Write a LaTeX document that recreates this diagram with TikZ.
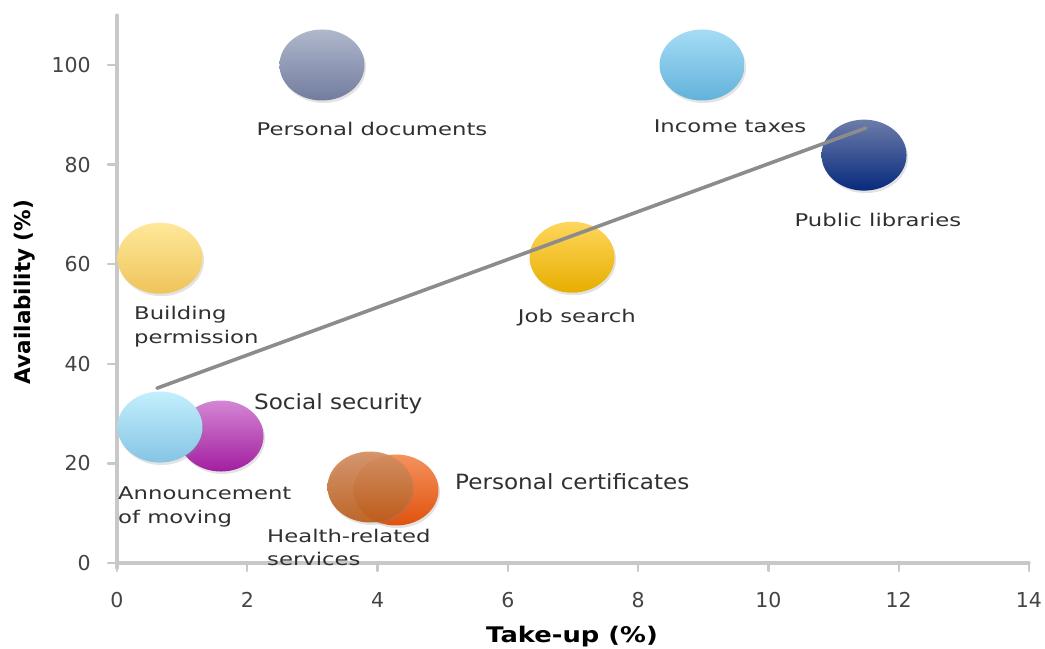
\documentclass[tikz,border=0pt]{standalone}
\usepackage{fontspec}
\setmainfont{DejaVu Sans}
\newfontfamily\lblfont[FakeStretch=1.3]{DejaVu Sans}
\newfontfamily\biglblfont[FakeStretch=1.1]{DejaVu Sans}
\newfontfamily\ttlfont[FakeStretch=1.2]{DejaVu Sans}
\usetikzlibrary{shapes.geometric,shadows}

\definecolor{axisgray}{HTML}{C8C8C8}
\definecolor{trendgray}{HTML}{8C8C8C}
\definecolor{textgray}{HTML}{303030}
\definecolor{tickgray}{HTML}{444444}
\definecolor{pdocT}{HTML}{B0B8CC}   \definecolor{pdocB}{HTML}{727C9E}
\definecolor{incomeT}{HTML}{A5DCF5} \definecolor{incomeB}{HTML}{62B2DA}
\definecolor{publibT}{HTML}{6C7CAA} \definecolor{publibB}{HTML}{072A7C}
\definecolor{jobT}{HTML}{FED65C}    \definecolor{jobB}{HTML}{E7AE00}
\definecolor{buildT}{HTML}{FEE89A}  \definecolor{buildB}{HTML}{EFC45A}
\definecolor{socialT}{HTML}{D486D4} \definecolor{socialB}{HTML}{A21EA0}
\definecolor{moveT}{HTML}{C2EFFD}   \definecolor{moveB}{HTML}{86C4E4}
\definecolor{certT}{HTML}{F5925C}   \definecolor{certB}{HTML}{E0520E}
\definecolor{healthT}{HTML}{D38F64} \definecolor{healthB}{HTML}{BB5C1A}

\tikzset{
  bubble/.style={ellipse, minimum width=85pt, minimum height=71pt,
    inner sep=0pt, top color=#1T, bottom color=#1B,
    drop shadow={opacity=0.22, shadow xshift=1.5pt, shadow yshift=-2.5pt}},
  lbl/.style={text=textgray, inner sep=0pt, align=left,
    font=\lblfont\fontsize{17.5}{23.5}\selectfont},
  biglbl/.style={text=textgray, inner sep=0pt,
    font=\biglblfont\fontsize{21}{25}\selectfont},
  ticklbl/.style={text=tickgray, inner sep=0pt, font=\fontsize{20.5}{24}\selectfont},
  axisline/.style={draw=axisgray, line width=3.5pt},
  axistick/.style={draw=axisgray, line width=2.2pt}
}

\begin{document}
\begin{tikzpicture}[x=65.14pt,y=4.98pt,line cap=round,line join=round]
    \useasboundingbox (-1.796,-17.07) rectangle (14.246,113.05);

    % axes and ticks
    \draw[axisline] (0,-1) -- (0,110);
    \draw[axisline] (0,0) -- (14,0);
    \foreach \v in {0,20,...,100} {
        \draw[axistick] (-0.14,\v) -- (0,\v);
        \node[ticklbl,anchor=east] (yt\v) at (-0.4,\v) {\v};
    }
    \foreach \u in {0,2,...,14} {
        \draw[axistick] (\u,0) -- (\u,-1.6);
        \node[ticklbl] (xt\u) at (\u,-7.4) {\u};
    }
    \node[ticklbl,text=black,rotate=90,font=\fontsize{21.5}{24}\selectfont\bfseries]
        (ytitle) at (-1.412,54.4) {Availability (\%)};
    \node[ticklbl,text=black,font=\ttlfont\fontsize{21.5}{24}\selectfont\bfseries]
        (xtitle) at (6.985,-14.86) {Take-up (\%)};

    % bubbles
    \node[bubble=pdoc] (pdoc) at (3.147,100) {};
    \node[bubble=income] (income) at (8.981,100) {};
    \node[bubble=publib] (publib) at (11.468,81.9) {};
    \node[bubble=job] (job) at (6.985,61.4) {};
    \node[bubble=build] (build) at (0.66,61.2) {};
    \node[bubble=social] (social) at (1.597,25.5) {};
    \node[bubble=move] (move) at (0.66,27.3) {};
    \node[bubble=cert] (cert) at (4.283,14.66) {};
    \node[bubble=health,fill opacity=0.92] (health) at (3.884,15.26) {};

    % trend line
    \coordinate (tstart) at (0.614,35.1);
    \coordinate (tend) at (11.498,87.35);
    \draw[trendgray,line width=3.6pt] (tstart) -- (tend);

    % labels
    \node[lbl,anchor=base] (pdocl) at (3.915,85.9) {Personal documents};
    \node[lbl,anchor=base] (incomel) at (9.41,86.5) {Income taxes};
    \node[lbl,anchor=base] (publibl) at (11.68,67.5) {Public libraries};
    \node[lbl,anchor=base] (jobl) at (7.06,48.2) {Job search};
    \node[lbl,anchor=north west] (buildl) at (0.261,51.6) {Building\\permission};
    \node[biglbl,anchor=base west] (sociall) at (2.103,30.9) {Social security};
    \node[lbl,anchor=north west] (movel) at (0.015,15.26) {Announcement\\of moving};
    \node[lbl,anchor=north west] (healthl) at (2.303,6.83) {Health-related\\services};
    \node[biglbl,anchor=base west] (certl) at (5.189,14.86) {Personal certificates};
\end{tikzpicture}
\end{document}
